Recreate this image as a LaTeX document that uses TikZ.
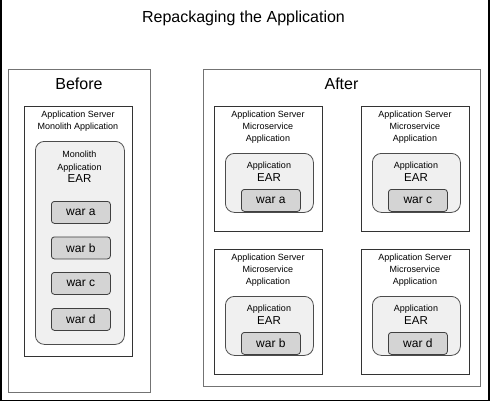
\documentclass[tikz,border=0pt]{standalone}
\usepackage{fontspec}
\setmainfont{Liberation Sans}
\begin{document}
\begin{tikzpicture}[x=1pt,y=-1pt,
  frame/.style={draw=black,line width=1.5pt},
  grpbox/.style={draw=black!55,line width=1pt,inner sep=0pt,anchor=north west},
  srvbox/.style={draw=black!80,line width=0.8pt,inner sep=0pt,anchor=north west},
  earbox/.style={draw=black!70,fill=black!6,rounded corners=9pt,line width=0.8pt,inner sep=0pt,anchor=north west},
  warbox/.style={draw=black!75,fill=black!17,rounded corners=3pt,line width=0.8pt,inner sep=0pt,anchor=north west,
    minimum width=59pt,minimum height=22pt,font=\fontsize{12}{14}\selectfont},
  titletxt/.style={anchor=base,inner sep=0pt,font=\fontsize{16}{19}\selectfont},
  smalltxt/.style={anchor=base,inner sep=0pt,font=\fontsize{9}{11}\selectfont},
  eartxt/.style={anchor=base,inner sep=0pt,font=\fontsize{11.5}{13}\selectfont}
]
\useasboundingbox (0,0) rectangle (491,402);
\draw[frame] (1,0) -- (1,400.5) -- (489,400.5) -- (489,0);

\node[titletxt] (title) at (243.5,22.5) {Repackaging the Application};

% Before
\node[grpbox,minimum width=142pt,minimum height=323pt] (before) at (8,69) {};
\node[titletxt] (beforelbl) at (79,89.3) {Before};
\node[srvbox,minimum width=108pt,minimum height=250pt] (monosrv) at (24,106) {};
\node[smalltxt] (monosrv1) at (78,117) {Application Server};
\node[smalltxt] (monosrv2) at (78,129) {Monolith Application};
\node[earbox,minimum width=89pt,minimum height=203pt] (monoear) at (35,141) {};
\node[smalltxt] (monoear1) at (79.5,157.5) {Monolith};
\node[smalltxt] (monoear2) at (79.5,170) {Application};
\node[eartxt] (monoear3) at (79.5,182.5) {EAR};
\node[warbox] (mwa) at (51,201) {war a};
\node[warbox] (mwb) at (51,236.5) {war b};
\node[warbox] (mwc) at (51,272) {war c};
\node[warbox] (mwd) at (51,308) {war d};

% After
\node[grpbox,minimum width=277pt,minimum height=317pt] (after) at (203,69) {};
\node[titletxt] (afterlbl) at (341.5,89.3) {After};

\newcommand\MSunit[4]{%
  \begin{scope}[shift={(#1,#2)}]
    \node[srvbox,minimum width=108pt,minimum height=125pt] (#3srv) at (214,106) {};
    \node[smalltxt] (#3t1) at (268,117) {Application Server};
    \node[smalltxt] (#3t2) at (268,129) {Microservice};
    \node[smalltxt] (#3t3) at (268,141) {Application};
    \node[earbox,minimum width=88pt,minimum height=59pt] (#3ear) at (225,153) {};
    \node[smalltxt] (#3e1) at (269,168.5) {Application};
    \node[eartxt] (#3e2) at (269,181) {EAR};
    \node[warbox] (#3war) at (241,189) {war #4};
  \end{scope}}
\MSunit{0}{0}{msa}{a}
\MSunit{147}{0}{msc}{c}
\MSunit{0}{143}{msb}{b}
\MSunit{147}{143}{msd}{d}
\end{tikzpicture}
\end{document}
